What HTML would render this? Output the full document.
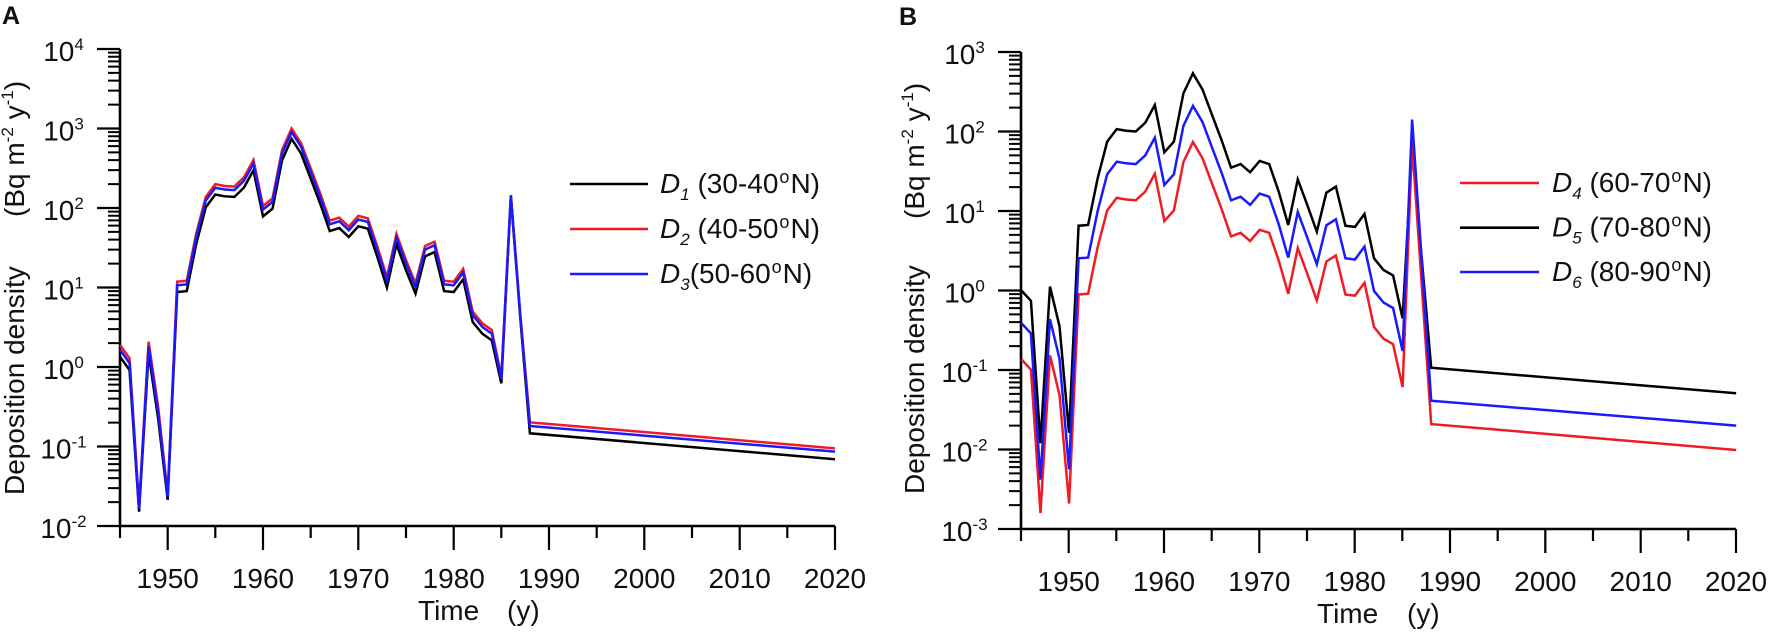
<!DOCTYPE html>
<html><head><meta charset="utf-8"><style>
html,body{margin:0;padding:0;background:#fff;}
svg{display:block;}
text{font-family:"Liberation Sans",Arial,sans-serif;fill:#111;}
</style></head><body>
<svg width="1772" height="635" viewBox="0 0 1772 635" xmlns="http://www.w3.org/2000/svg">
<rect width="1772" height="635" fill="#fff"/>
<defs>
<path id="dec" d="M108,-23.93H120M108,-37.93H120M108,-47.86H120M108,-55.57H120M108,-61.86H120M108,-67.18H120M108,-71.79H120M108,-75.86H120" stroke="#000" stroke-width="2" fill="none"/>
<g id="frame" stroke="#000" fill="none">
<path d="M120,49V526H835" stroke-width="2.6"/>
<path stroke-width="2.2" d="M97,49H120M97,128.5H120M97,208H120M97,287.5H120M97,367H120M97,446.5H120M97,526H120M167.7,526v24M263,526v24M358.3,526v24M453.7,526v24M549,526v24M644.3,526v24M739.7,526v24M835,526v24M120,526v12M215.3,526v12M310.7,526v12M406,526v12M501.3,526v12M596.7,526v12M692,526v12M787.3,526v12"/>
<use href="#dec" y="128.5"/>
<use href="#dec" y="208"/>
<use href="#dec" y="287.5"/>
<use href="#dec" y="367"/>
<use href="#dec" y="446.5"/>
<use href="#dec" y="526"/>
</g>
</defs>

<use href="#frame"/>
<use href="#frame" x="901" y="3"/>

<text x="2" y="24" font-size="25" font-weight="bold">A</text>
<text x="899" y="25" font-size="25" font-weight="bold">B</text>

<g font-size="28" text-anchor="middle">
<text x="63.5" y="61">10<tspan font-size="17" dy="-11">4</tspan></text>
<text x="63.5" y="140.5">10<tspan font-size="17" dy="-11">3</tspan></text>
<text x="63.5" y="220">10<tspan font-size="17" dy="-11">2</tspan></text>
<text x="63.5" y="299.5">10<tspan font-size="17" dy="-11">1</tspan></text>
<text x="63.5" y="379">10<tspan font-size="17" dy="-11">0</tspan></text>
<text x="63.5" y="458.5">10<tspan font-size="17" dy="-11">-1</tspan></text>
<text x="63.5" y="538">10<tspan font-size="17" dy="-11">-2</tspan></text>
</g>
<g font-size="28" text-anchor="middle">
<text x="964.5" y="64">10<tspan font-size="17" dy="-11">3</tspan></text>
<text x="964.5" y="143.5">10<tspan font-size="17" dy="-11">2</tspan></text>
<text x="964.5" y="223">10<tspan font-size="17" dy="-11">1</tspan></text>
<text x="964.5" y="302.5">10<tspan font-size="17" dy="-11">0</tspan></text>
<text x="964.5" y="382">10<tspan font-size="17" dy="-11">-1</tspan></text>
<text x="964.5" y="461.5">10<tspan font-size="17" dy="-11">-2</tspan></text>
<text x="964.5" y="541">10<tspan font-size="17" dy="-11">-3</tspan></text>
</g>

<g font-size="28" text-anchor="middle">
<text x="167.7" y="588">1950</text>
<text x="263" y="588">1960</text>
<text x="358.3" y="588">1970</text>
<text x="453.7" y="588">1980</text>
<text x="549" y="588">1990</text>
<text x="644.3" y="588">2000</text>
<text x="739.7" y="588">2010</text>
<text x="835" y="588">2020</text>
<text x="1068.7" y="591">1950</text>
<text x="1164" y="591">1960</text>
<text x="1259.3" y="591">1970</text>
<text x="1354.7" y="591">1980</text>
<text x="1450" y="591">1990</text>
<text x="1545.3" y="591">2000</text>
<text x="1640.7" y="591">2010</text>
<text x="1736" y="591">2020</text>
</g>

<g font-size="28">
<text x="418" y="620">Time</text>
<text x="507" y="620">(y)</text>
<text x="1317" y="623">Time</text>
<text x="1407" y="623">(y)</text>
<text transform="translate(24,495) rotate(-90)">Deposition density</text>
<text transform="translate(24,217) rotate(-90)">(Bq m<tspan font-size="17" dy="-11">-2</tspan><tspan dy="11"> y</tspan><tspan font-size="17" dy="-11">-1</tspan><tspan dy="11">)</tspan></text>
<text transform="translate(924,494) rotate(-90)">Deposition density</text>
<text transform="translate(924,219) rotate(-90)">(Bq m<tspan font-size="17" dy="-11">-2</tspan><tspan dy="11"> y</tspan><tspan font-size="17" dy="-11">-1</tspan><tspan dy="11">)</tspan></text>
</g>

<g transform="translate(120,367) scale(9.533,-79.5)" fill="none" stroke-width="2.5" stroke-linejoin="miter">
<path vector-effect="non-scaling-stroke" stroke="#000" d="M0,0.13L1,-0.038L2,-1.82L3,0.171L4,-0.647L5,-1.67L6,0.943L7,0.955L8,1.55L9,2.01L10,2.17L11,2.147L12,2.14L13,2.256L14,2.474L15,1.895L16,1.992L17,2.6L18,2.87L19,2.684L20,2.37L21,2.055L22,1.71L23,1.748L24,1.635L25,1.77L26,1.74L27,1.383L28,1.0L29,1.543L30,1.216L31,0.923L32,1.392L33,1.446L34,0.955L35,0.943L36,1.103L37,0.566L38,0.42L39,0.335L40,-0.205L41,2.14L42,0.6L43,-0.834L75,-1.16"/>
<path vector-effect="non-scaling-stroke" stroke="#ee1c24" d="M0,0.277L1,0.109L2,-1.75L3,0.318L4,-0.5L5,-1.6L6,1.073L7,1.085L8,1.68L9,2.14L10,2.3L11,2.277L12,2.27L13,2.386L14,2.604L15,2.025L16,2.122L17,2.73L18,3.0L19,2.814L20,2.5L21,2.185L22,1.84L23,1.878L24,1.765L25,1.9L26,1.87L27,1.513L28,1.13L29,1.673L30,1.346L31,1.053L32,1.522L33,1.576L34,1.085L35,1.073L36,1.233L37,0.696L38,0.55L39,0.465L40,-0.12L41,2.16L42,0.65L43,-0.696L75,-1.023"/>
<path vector-effect="non-scaling-stroke" stroke="#1a1aff" d="M0,0.217L1,0.049L2,-1.78L3,0.258L4,-0.56L5,-1.63L6,1.028L7,1.04L8,1.635L9,2.095L10,2.255L11,2.232L12,2.225L13,2.341L14,2.559L15,1.98L16,2.077L17,2.685L18,2.955L19,2.769L20,2.455L21,2.14L22,1.795L23,1.833L24,1.72L25,1.855L26,1.825L27,1.468L28,1.085L29,1.628L30,1.301L31,1.008L32,1.477L33,1.531L34,1.04L35,1.028L36,1.188L37,0.651L38,0.505L39,0.42L40,-0.15L41,2.16L42,0.63L43,-0.742L75,-1.065"/>
</g>

<g transform="translate(1021.4,290.5) scale(9.53,-79.5)" fill="none" stroke-width="2.5" stroke-linejoin="miter">
<path vector-effect="non-scaling-stroke" stroke="#000" d="M0,0.0L1,-0.13L2,-1.92L3,0.05L4,-0.45L5,-1.79L6,0.815L7,0.824L8,1.41L9,1.872L10,2.03L11,2.01L12,2.0L13,2.11L14,2.333L15,1.738L16,1.872L17,2.48L18,2.732L19,2.53L20,2.21L21,1.893L22,1.545L23,1.59L24,1.487L25,1.629L26,1.59L27,1.243L28,0.824L29,1.398L30,1.075L31,0.74L32,1.23L33,1.306L34,0.815L35,0.8L36,0.962L37,0.405L38,0.258L39,0.19L40,-0.35L41,1.8L43,-0.971L75,-1.293"/>
<path vector-effect="non-scaling-stroke" stroke="#ee1c24" d="M0,-0.865L1,-0.995L2,-2.8L3,-0.815L4,-1.315L5,-2.68L6,-0.05L7,-0.041L8,0.545L9,1.007L10,1.165L11,1.145L12,1.135L13,1.245L14,1.468L15,0.873L16,1.007L17,1.615L18,1.867L19,1.665L20,1.345L21,1.028L22,0.68L23,0.725L24,0.622L25,0.764L26,0.725L27,0.378L28,-0.041L29,0.533L30,0.21L31,-0.125L32,0.365L33,0.441L34,-0.05L35,-0.065L36,0.097L37,-0.46L38,-0.607L39,-0.675L40,-1.215L41,1.85L43,-1.68L75,-2.006"/>
<path vector-effect="non-scaling-stroke" stroke="#1a1aff" d="M0,-0.41L1,-0.54L2,-2.38L3,-0.36L4,-0.86L5,-2.25L6,0.405L7,0.414L8,1.0L9,1.462L10,1.62L11,1.6L12,1.59L13,1.7L14,1.923L15,1.328L16,1.462L17,2.07L18,2.322L19,2.12L20,1.8L21,1.483L22,1.135L23,1.18L24,1.077L25,1.219L26,1.18L27,0.833L28,0.414L29,0.988L30,0.665L31,0.33L32,0.82L33,0.896L34,0.405L35,0.39L36,0.552L37,-0.005L38,-0.152L39,-0.22L40,-0.76L41,2.15L43,-1.386L75,-1.7"/>
</g>

<g stroke-width="2.6" fill="none">
<path d="M570,184H648" stroke="#000"/>
<path d="M570,229H648" stroke="#ee1c24"/>
<path d="M570,274H648" stroke="#1a1aff"/>
<path d="M1460,183H1539" stroke="#ee1c24"/>
<path d="M1460,227.7H1539" stroke="#000"/>
<path d="M1460,272H1539" stroke="#1a1aff"/>
</g>
<g font-size="28">
<text x="660" y="193"><tspan font-style="italic">D</tspan><tspan font-style="italic" font-size="17" dy="7">1</tspan><tspan dy="-7"> (30-40</tspan><tspan font-size="18" dx="1" dy="-10">o</tspan><tspan dx="1" dy="10">N)</tspan></text>
<text x="660" y="238"><tspan font-style="italic">D</tspan><tspan font-style="italic" font-size="17" dy="7">2</tspan><tspan dy="-7"> (40-50</tspan><tspan font-size="18" dx="1" dy="-10">o</tspan><tspan dx="1" dy="10">N)</tspan></text>
<text x="660" y="283"><tspan font-style="italic">D</tspan><tspan font-style="italic" font-size="17" dy="7">3</tspan><tspan dy="-7">(50-60</tspan><tspan font-size="18" dx="1" dy="-10">o</tspan><tspan dx="1" dy="10">N)</tspan></text>
<text x="1552" y="192"><tspan font-style="italic">D</tspan><tspan font-style="italic" font-size="17" dy="7">4</tspan><tspan dy="-7"> (60-70</tspan><tspan font-size="18" dx="1" dy="-10">o</tspan><tspan dx="1" dy="10">N)</tspan></text>
<text x="1552" y="236.5"><tspan font-style="italic">D</tspan><tspan font-style="italic" font-size="17" dy="7">5</tspan><tspan dy="-7"> (70-80</tspan><tspan font-size="18" dx="1" dy="-10">o</tspan><tspan dx="1" dy="10">N)</tspan></text>
<text x="1552" y="281"><tspan font-style="italic">D</tspan><tspan font-style="italic" font-size="17" dy="7">6</tspan><tspan dy="-7"> (80-90</tspan><tspan font-size="18" dx="1" dy="-10">o</tspan><tspan dx="1" dy="10">N)</tspan></text>
</g>
</svg>
</body></html>
